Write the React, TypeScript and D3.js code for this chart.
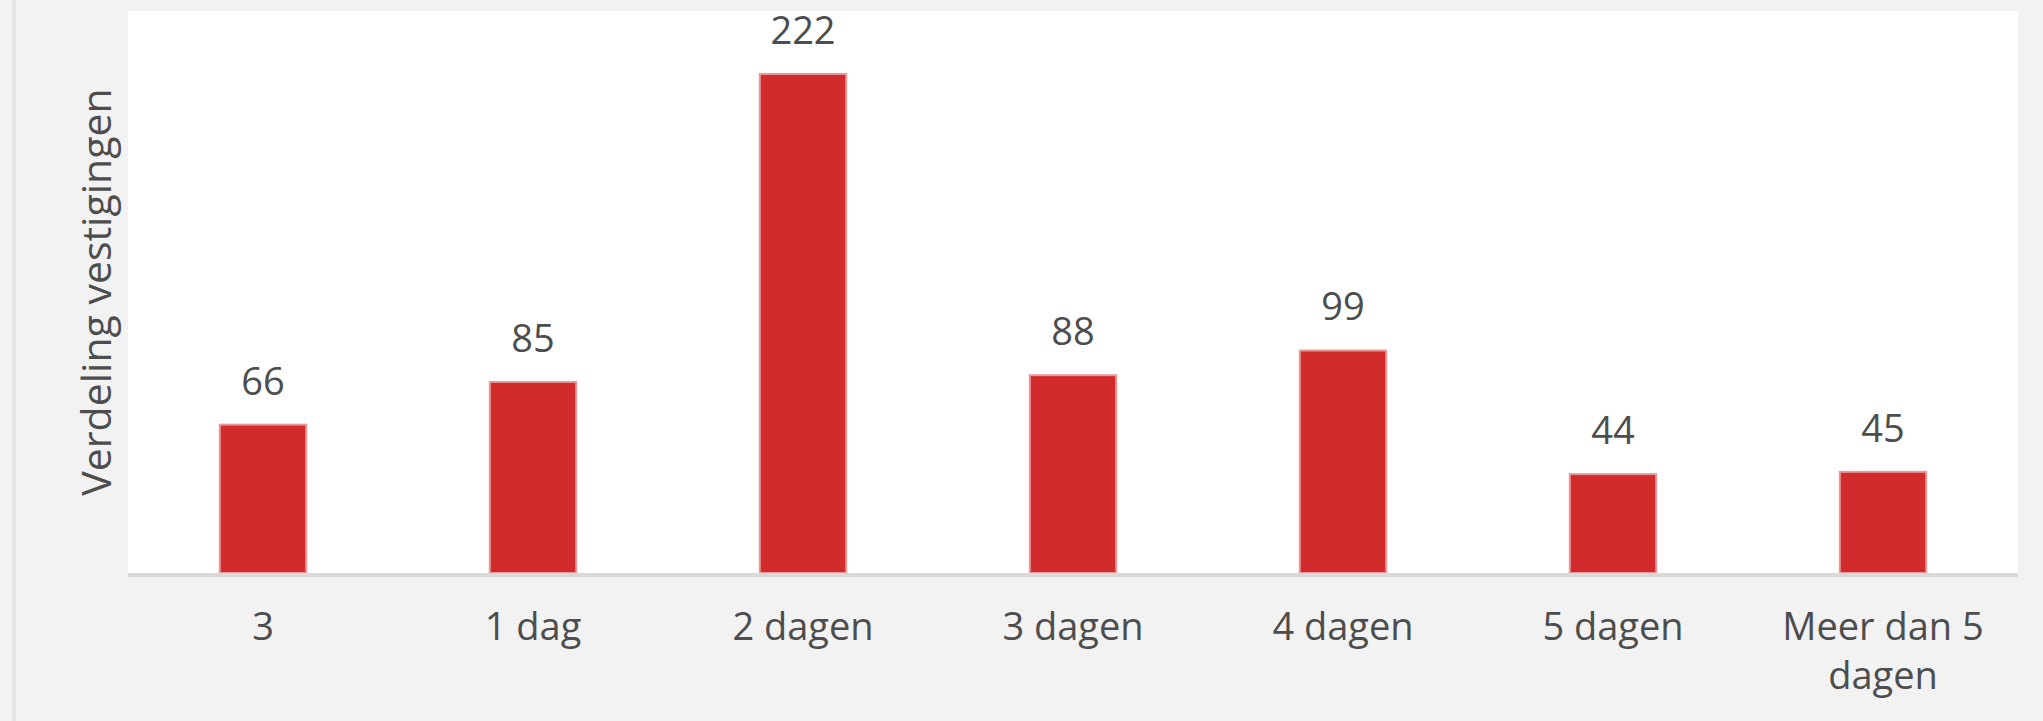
import React from "react";
import * as d3 from "d3";

const categories = ["3", "1 dag", "2 dagen", "3 dagen", "4 dagen", "5 dagen", "Meer dan 5 dagen"];
const values = [66, 85, 222, 88, 99, 44, 45];
const yDomain = [0, 250];
const yTitle = "Verdeling vestigingen";

const W = 2043;
const H = 721;
const FONT = "'Open Sans', 'Noto Sans', sans-serif";
const LABEL_SIZE = 38;

function wrap(text: string, maxWidth: number, font: string): string[] {
  const canvas = document.createElement("canvas");
  const ctx = canvas.getContext("2d")!;
  ctx.font = font;
  const words = text.split(" ");
  const lines: string[] = [];
  let cur = "";
  for (const w of words) {
    const test = cur ? cur + " " + w : w;
    if (ctx.measureText(test).width > maxWidth && cur) {
      lines.push(cur);
      cur = w;
    } else cur = test;
  }
  if (cur) lines.push(cur);
  return lines;
}

export default function App() {
  const left = 128, right = 2018, top = 11, bottom = 573;
  const x = d3.scaleBand<string>().domain(categories).range([left, right]).paddingInner(0.68).paddingOuter(0.34);
  const y = d3.scaleLinear().domain(yDomain).range([bottom, top]);
  const font = `${LABEL_SIZE}px ${FONT}`;

  return (
    <svg width={W} height={H} style={{ position: "fixed", left: 0, top: 0 }} fontFamily={FONT}>
      <rect x={0} y={0} width={W} height={H} fill="#f2f2f2" />
      <rect x={12} y={0} width={4} height={H} fill="#e4e4e4" />
      <rect x={left} y={top} width={right - left} height={bottom - top} fill="#ffffff" />
      {categories.map((c, i) => (
        <rect
          key={c}
          x={x(c)!}
          y={y(values[i])}
          width={x.bandwidth()}
          height={bottom - y(values[i])}
          fill="#d12b2b"
          stroke="#e89a9a"
          strokeWidth={2}
        />
      ))}
      <line x1={left} x2={right} y1={bottom + 2} y2={bottom + 2} stroke="#d9d9d9" strokeWidth={4} />
      {categories.map((c, i) => (
        <text
          key={"v" + c}
          x={x(c)! + x.bandwidth() / 2}
          y={y(values[i]) - 30}
          textAnchor="middle"
          fontSize={LABEL_SIZE}
          fill="#4d4d4d"
        >
          {values[i]}
        </text>
      ))}
      {categories.map((c) => {
        const lines = wrap(c, x.step() - 40, font);
        return lines.map((l, j) => (
          <text
            key={"x" + c + j}
            x={x(c)! + x.bandwidth() / 2}
            y={640 + j * 49}
            textAnchor="middle"
            fontSize={LABEL_SIZE}
            fill="#4d4d4d"
          >
            {l}
          </text>
        ));
      })}
      <text
        transform={`translate(111, ${(top + bottom) / 2}) rotate(-90)`}
        textAnchor="middle"
        fontSize={41}
        fill="#4d4d4d"
      >
        {yTitle}
      </text>
    </svg>
  );
}
